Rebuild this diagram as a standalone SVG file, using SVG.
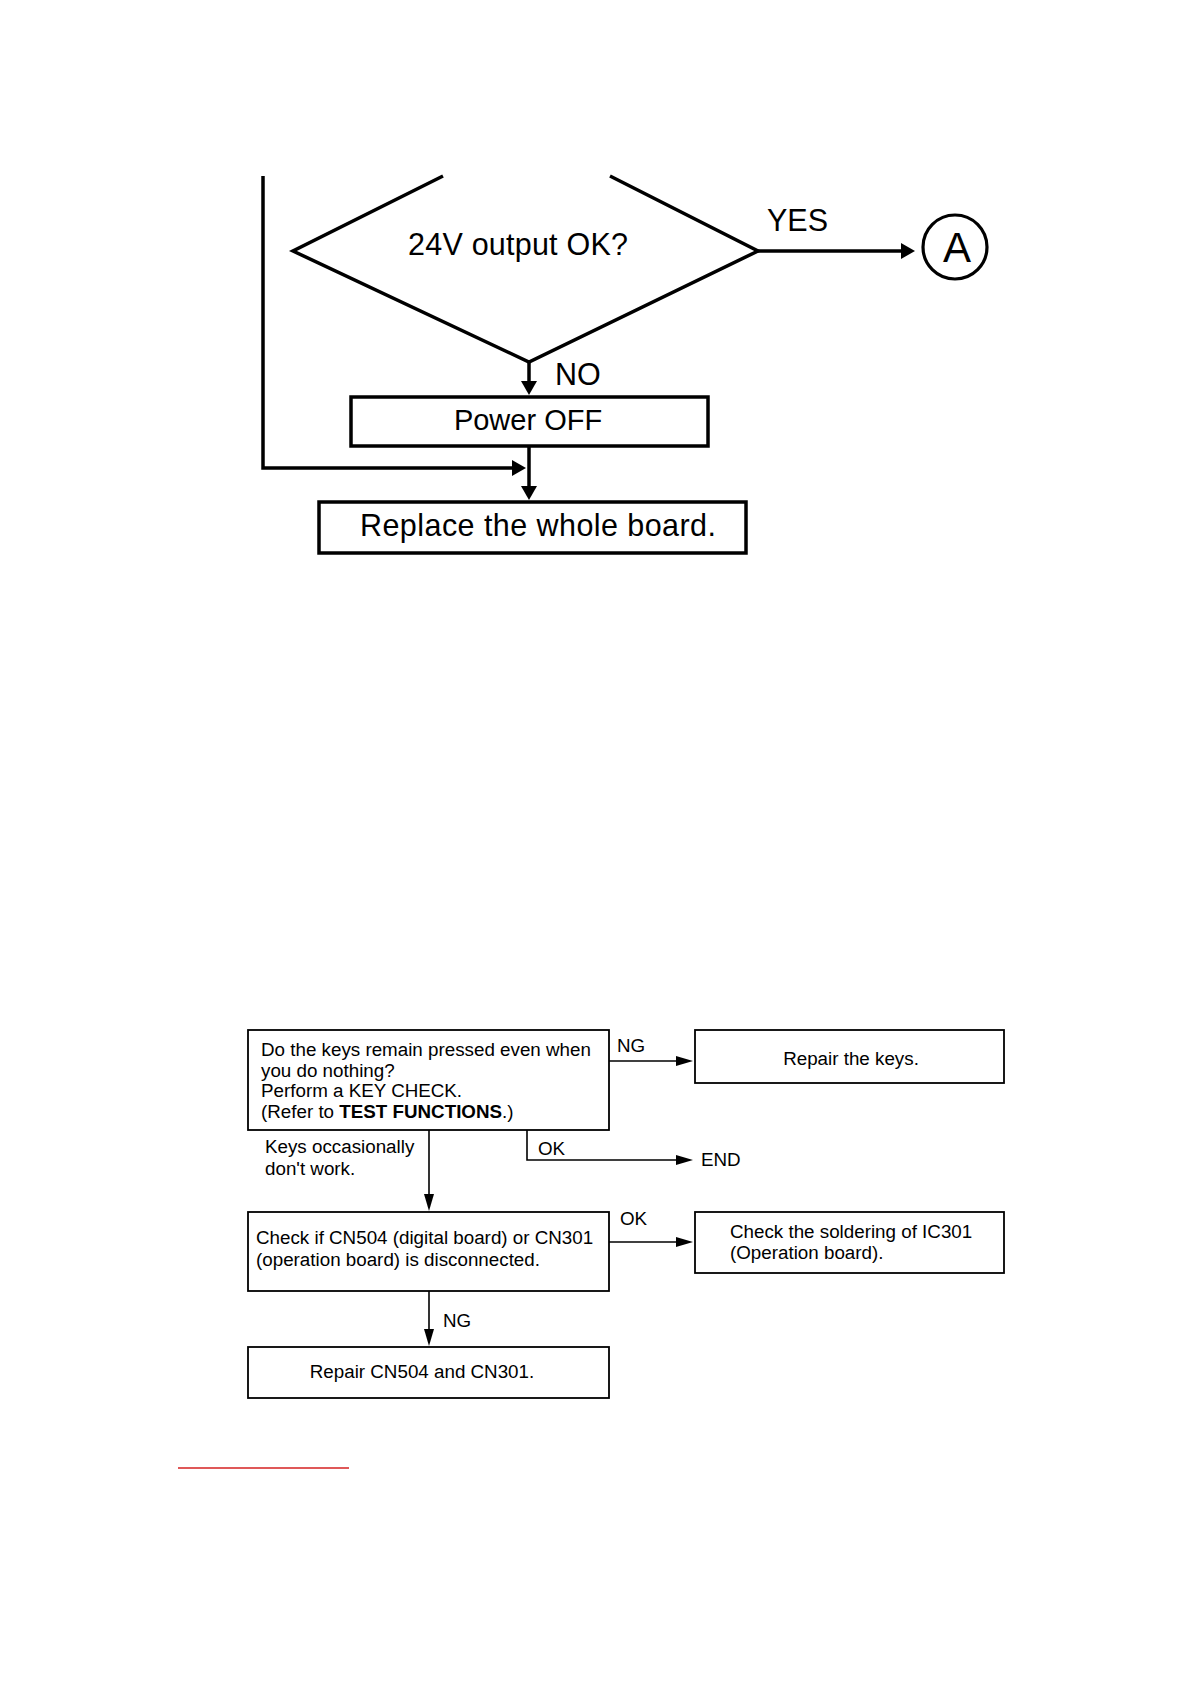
<svg xmlns="http://www.w3.org/2000/svg" width="1190" height="1682" viewBox="0 0 1190 1682">
<style>
.t{font-family:"Liberation Sans",Arial,sans-serif;fill:#000}
.big{font-size:30.5px}
.sm{font-size:18.8px}
.bx{fill:#fff;stroke:#000;stroke-width:3.5}
.bxs{fill:#fff;stroke:#000;stroke-width:1.8}
.cb{fill:none;stroke:#000;stroke-width:3.5}
.cs{fill:none;stroke:#000;stroke-width:1.6}
</style>
<defs>
<marker id="ab" viewBox="0 0 14 16" refX="6" refY="8" markerWidth="14" markerHeight="16" markerUnits="userSpaceOnUse" orient="auto"><path d="M0,0 L14,8 L0,16 z" fill="#000"/></marker>
<marker id="as" viewBox="0 0 17 10" refX="9" refY="5" markerWidth="17" markerHeight="10" markerUnits="userSpaceOnUse" orient="auto"><path d="M0,0 L17,5 L0,10 z" fill="#000"/></marker>
</defs>
<rect width="1190" height="1682" fill="#fff"/>
<g id="connectors">
<path class="cb" d="M758,251 H907" marker-end="url(#ab)"/>
<path class="cb" d="M529,362 V387" marker-end="url(#ab)"/>
<path class="cb" d="M263,176 V468 H518" marker-end="url(#ab)"/>
<path class="cb" d="M529,446 V492" marker-end="url(#ab)"/>
<path class="cs" d="M609,1061 H685" marker-end="url(#as)"/>
<path class="cs" d="M527,1130 V1160 H685" marker-end="url(#as)"/>
<path class="cs" d="M429,1130 V1203" marker-end="url(#as)"/>
<path class="cs" d="M609,1242 H685" marker-end="url(#as)"/>
<path class="cs" d="M429,1291 V1338" marker-end="url(#as)"/>
</g>
<g id="decision">
<polyline class="cb" points="443,176 293,251 529,362 758,251 610,176"/>
<text class="t big" x="408" y="255" textLength="220">24V output OK?</text>
</g>
<g id="labels-upper">
<text class="t big" x="767" y="231">YES</text>
<text class="t big" x="555" y="385">NO</text>
</g>
<g id="connector-A">
<circle cx="955" cy="247" r="32" fill="#fff" stroke="#000" stroke-width="3.2"/>
<text class="t" x="957" y="262" font-size="42" text-anchor="middle">A</text>
</g>
<g id="power-off">
<rect class="bx" x="351" y="397" width="357" height="49"/>
<text class="t" x="528" y="430" font-size="29" text-anchor="middle">Power OFF</text>
</g>
<g id="replace-board">
<rect class="bx" x="319" y="502" width="427" height="51"/>
<text class="t big" x="360" y="536" textLength="356">Replace the whole board.</text>
</g>
<g id="key-check">
<rect class="bxs" x="248" y="1030" width="361" height="100"/>
<text class="t sm" x="261" y="1056">Do the keys remain pressed even when</text>
<text class="t sm" x="261" y="1076.5">you do nothing?</text>
<text class="t sm" x="261" y="1097">Perform a KEY CHECK.</text>
<text class="t sm" x="261" y="1117.5">(Refer to <tspan font-weight="bold">TEST FUNCTIONS</tspan>.)</text>
</g>
<g id="repair-keys">
<rect class="bxs" x="695" y="1030" width="309" height="53"/>
<text class="t sm" x="851" y="1065" text-anchor="middle">Repair the keys.</text>
</g>
<g id="end">
<text class="t sm" x="701" y="1166">END</text>
</g>
<g id="labels-lower">
<text class="t sm" x="617" y="1052">NG</text>
<text class="t sm" x="265" y="1153">Keys occasionally</text>
<text class="t sm" x="265" y="1175">don't work.</text>
<text class="t sm" x="538" y="1155">OK</text>
<text class="t sm" x="620" y="1225">OK</text>
<text class="t sm" x="443" y="1327">NG</text>
</g>
<g id="check-cn">
<rect class="bxs" x="248" y="1212" width="361" height="79"/>
<text class="t sm" x="256" y="1244">Check if CN504 (digital board) or CN301</text>
<text class="t sm" x="256" y="1265.5">(operation board) is disconnected.</text>
</g>
<g id="check-soldering">
<rect class="bxs" x="695" y="1212" width="309" height="61"/>
<text class="t sm" x="730" y="1238">Check the soldering of IC301</text>
<text class="t sm" x="730" y="1258.5">(Operation board).</text>
</g>
<g id="repair-cn">
<rect class="bxs" x="248" y="1347" width="361" height="51"/>
<text class="t sm" x="422" y="1378" text-anchor="middle">Repair CN504 and CN301.</text>
</g>
<line x1="178" y1="1468" x2="349" y2="1468" stroke="#d42020" stroke-width="1.5"/>
</svg>
